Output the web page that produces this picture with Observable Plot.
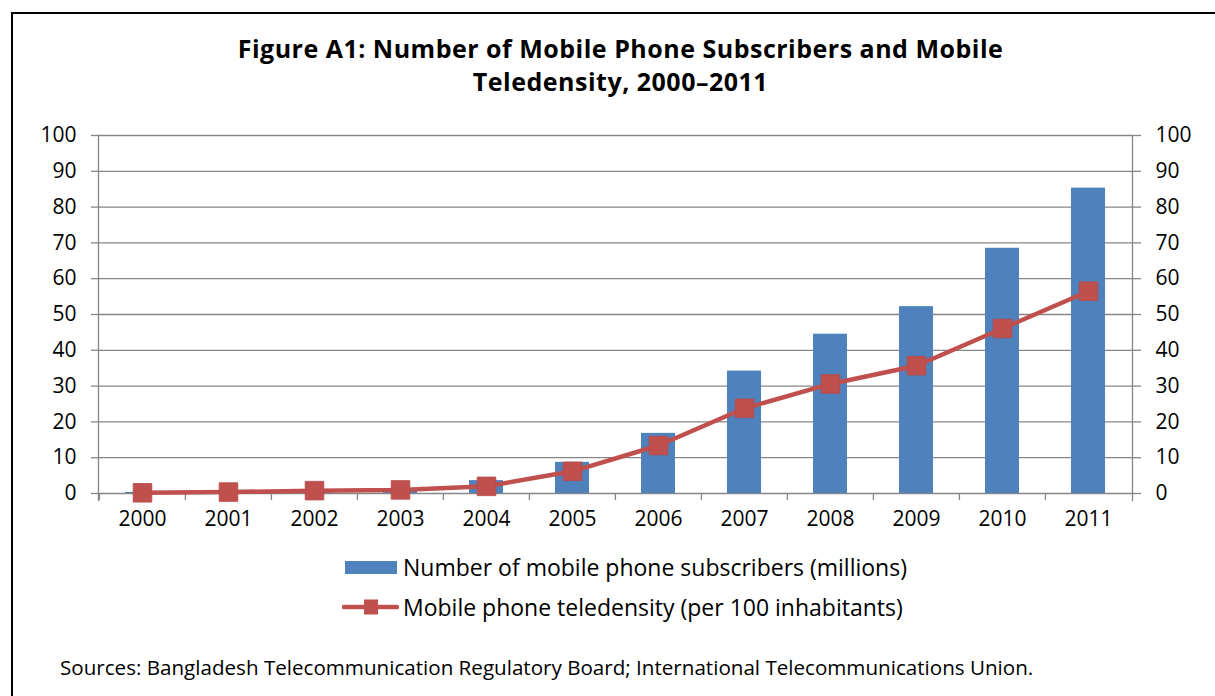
<!DOCTYPE html>
<html>
<head>
<meta charset="utf-8">
<script src="https://cdn.jsdelivr.net/npm/d3@7"></script>
<script src="https://cdn.jsdelivr.net/npm/@observablehq/plot@0.6"></script>
<style>
  html, body { margin: 0; padding: 0; background: #fff; }
  #wrap { position: relative; width: 1215px; height: 696px; overflow: hidden; font-family: "Open Sans", sans-serif; color: #000; }
  #border { position: absolute; left: 11px; top: 12px; width: 1300px; height: 800px; border-left: 2px solid #000; border-top: 2px solid #000; }
  #title { position: absolute; left: 0; top: 32px; width: 1241px; text-align: center; font-weight: 700; font-size: 25px; letter-spacing: 0.5px; line-height: 33px; }
  #chart { position: absolute; left: 0; top: 0; }
  .leg { position: absolute; left: 342px; display: flex; align-items: center; font-size: 23px; height: 32px; white-space: nowrap; }
  .leg svg { display: block; margin-right: 4px; }
  #source { position: absolute; left: 60px; top: 653px; font-size: 20.6px; white-space: nowrap; }
</style>
</head>
<body>
<div id="wrap">
  <div id="border"></div>
  <div id="title">Figure A1: Number of Mobile Phone Subscribers and Mobile<br>Teledensity, 2000–2011</div>
  <div id="chart"></div>
  <div class="leg" style="top:551px"><svg width="57" height="14"><rect x="3" y="1" width="52" height="13" fill="#4F81BD"/></svg><span>Number of mobile phone subscribers (millions)</span></div>
  <div class="leg" style="top:591px"><svg width="57" height="20"><line x1="2" x2="55" y1="10" y2="10" stroke="#C0504D" stroke-width="4.5" stroke-linecap="round"/><rect x="22" y="2.5" width="14" height="15" fill="#C0504D"/></svg><span>Mobile phone teledensity (per 100 inhabitants)</span></div>
  <div id="source">Sources: Bangladesh Telecommunication Regulatory Board; International Telecommunications Union.</div>
</div>
<script>
const years = ["2000","2001","2002","2003","2004","2005","2006","2007","2008","2009","2010","2011"];
const subscribers = [0.3, 0.5, 1.1, 1.4, 3.6, 8.7, 16.8, 34.2, 44.5, 52.2, 68.5, 85.3];
const teledensity = [0.2, 0.4, 0.8, 1.0, 2.0, 6.2, 13.4, 23.8, 30.6, 35.7, 46.1, 56.5];
const yTicks = [0, 10, 20, 30, 40, 50, 60, 70, 80, 90, 100];

const data = years.map((y, i) => ({year: y, subs: subscribers[i], tele: teledensity[i]}));

const W = 1215, H = 545;
const mL = 98, mR = 83, mT = 135, mB = 52;
const step = (W - mL - mR) / years.length;
const gridColor = "#868686";

const chart = Plot.plot({
  width: W,
  height: H,
  marginLeft: mL,
  marginRight: mR,
  marginTop: mT,
  marginBottom: mB,
  style: {fontFamily: "Open Sans, sans-serif", fontSize: "21px", color: "#000", background: "transparent", overflow: "visible"},
  x: {domain: years, paddingInner: 0.6, paddingOuter: 0.3, axis: null},
  y: {domain: [0, 100], axis: null},
  marks: [
    Plot.ruleY(yTicks, {stroke: gridColor, strokeWidth: 1.3}),
    Plot.frame({anchor: "left", stroke: gridColor, strokeWidth: 1.3, insetBottom: -7}),
    Plot.frame({anchor: "right", stroke: gridColor, strokeWidth: 1.3, insetBottom: -7}),
    Plot.axisY({anchor: "left", ticks: yTicks, tickSize: 7, tickPadding: 15, stroke: gridColor, strokeWidth: 1.3, label: null, fill: "#000"}),
    Plot.axisY({anchor: "right", ticks: yTicks, tickSize: 8, tickPadding: 15, stroke: gridColor, strokeWidth: 1.3, label: null, fill: "#000", textAnchor: "start"}),
    Plot.axisX({ticks: years, tickSize: 7, text: null, dx: -step / 2, stroke: gridColor, strokeWidth: 1.3, label: null}),
    Plot.axisX({ticks: years, tickSize: 0, tickPadding: 18, label: null, fill: "#000"}),
    Plot.barY(data, {x: "year", y: "subs", fill: "#4F81BD"}),
    Plot.line(data, {x: "year", y: "tele", stroke: "#C0504D", strokeWidth: 4.5}),
    Plot.dot(data, {x: "year", y: "tele", symbol: "square", r: 10.5, fill: "#C0504D", stroke: "#B9494A", strokeWidth: 0.8})
  ]
});
document.getElementById("chart").appendChild(chart);
</script>
</body>
</html>
